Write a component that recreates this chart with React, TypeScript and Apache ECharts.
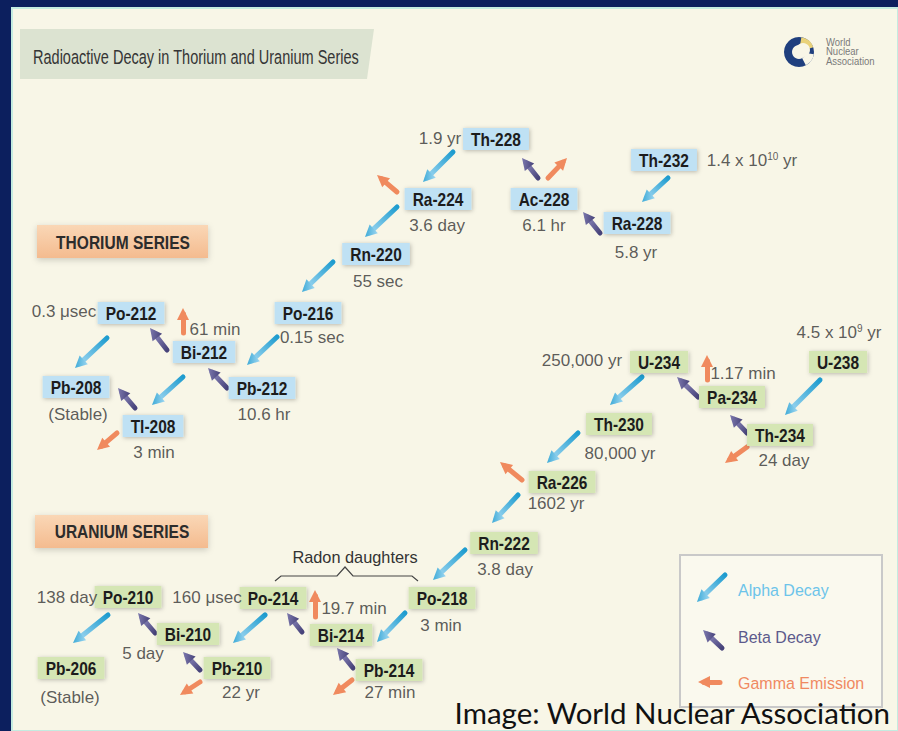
import React, { useEffect, useRef } from 'react';
import * as echarts from 'echarts';

const W = 898;
const H = 731;
const SANS = '"Liberation Sans", Arial, sans-serif';

// ---- Thorium series ----
const thoriumNuclides = ['Th-232', 'Ra-228', 'Ac-228', 'Th-228', 'Ra-224', 'Rn-220', 'Po-216', 'Pb-212', 'Bi-212', 'Po-212', 'Tl-208', 'Pb-208'];
const thoriumX = [664, 637, 544, 496, 438, 376, 308, 262, 204, 131, 153, 76];
const thoriumY = [160, 223, 199, 139, 199, 254, 313, 388, 352, 313, 426, 387];
const thoriumHalfLives = ['1.4 x 10¹⁰ yr', '5.8 yr', '6.1 hr', '1.9 yr', '3.6 day', '55 sec', '0.15 sec', '10.6 hr', '61 min', '0.3 μsec', '3 min', '(Stable)'];
const thoriumHalfX = [752, 636, 544, 440, 437, 378, 312, 264, 215, 64, 154, 78];
const thoriumHalfY = [160, 252, 225, 138, 225, 281, 337, 414, 329, 311, 452, 414];

// ---- Uranium series ----
const uraniumNuclides = ['U-238', 'Th-234', 'Pa-234', 'U-234', 'Th-230', 'Ra-226', 'Rn-222', 'Po-218', 'Pb-214', 'Bi-214', 'Po-214', 'Pb-210', 'Bi-210', 'Po-210', 'Pb-206'];
const uraniumX = [838, 780, 732, 659, 619, 562, 504, 442, 389, 341, 273, 237, 188, 128, 71];
const uraniumY = [362, 435, 397, 362, 424, 482, 543, 598, 670, 635, 598, 668, 634, 597, 668];
const uraniumHalfLives = ['4.5 x 10⁹ yr', '24 day', '1.17 min', '250,000 yr', '80,000 yr', '1602 yr', '3.8 day', '3 min', '27 min', '19.7 min', '160 μsec', '22 yr', '5 day', '138 day', '(Stable)'];
const uraniumHalfX = [839, 784, 743, 582, 620, 556, 505, 441, 390, 354, 207, 241, 143, 67, 70];
const uraniumHalfY = [332, 460, 373, 360, 453, 503, 569, 625, 692, 608, 597, 692, 653, 597, 697];

// ---- Decay arrows: [tailX, tailY, headX, headY] ----
const alphaArrows = [
  [668, 178, 642, 202], [453, 152, 423, 182], [397, 207, 365, 237], [333, 262, 302, 292],
  [277, 337, 247, 365], [183, 377, 152, 405], [107, 338, 75, 368],
  [820, 380, 785, 415], [642, 377, 610, 405], [578, 433, 547, 463], [518, 495, 492, 523],
  [465, 550, 433, 580], [405, 613, 377, 642], [265, 615, 233, 643], [108, 615, 73, 643],
  [725, 575, 697, 602],
];
const betaArrows = [
  [600, 233, 583, 212], [538, 178, 522, 158], [227, 388, 208, 368], [167, 350, 150, 328],
  [135, 408, 118, 388], [747, 433, 730, 415], [698, 397, 677, 377], [353, 668, 337, 648],
  [302, 632, 287, 613], [200, 670, 183, 652], [155, 633, 138, 613],
  [722, 648, 703, 630],
];
const gammaArrows = [
  [548, 178, 567, 158], [397, 192, 377, 175], [183, 333, 183, 308], [117, 433, 97, 450],
  [747, 447, 725, 463], [707, 380, 707, 355], [522, 480, 500, 462], [352, 680, 333, 695],
  [315, 617, 315, 590], [200, 682, 180, 695],
  [720, 682, 698, 682],
];

const legendLabels = ['Alpha Decay', 'Beta Decay', 'Gamma Emission'];
const legendColors = ['#6cc4ea', '#5c5a8c', '#f08a62'];
const legendY = [590, 637, 683];

const HEAD = 12;
function toLines(arr: number[][]) {
  return arr.map(([x1, y1, x2, y2]) => {
    const dx = x2 - x1;
    const dy = y2 - y1;
    const len = Math.sqrt(dx * dx + dy * dy);
    const k = (HEAD / 2) / len;
    return { coords: [[x1, y1], [x2 - dx * k, y2 - dy * k]] };
  });
}

let measureCtx: CanvasRenderingContext2D | null = null;
function measure(text: string, font: string) {
  if (!measureCtx) measureCtx = document.createElement('canvas').getContext('2d');
  if (!measureCtx) return text.length * 10;
  measureCtx.font = font;
  return measureCtx.measureText(text).width;
}

const NODE_FONT = 'bold 18px "Liberation Sans", Arial, sans-serif';
const NODE_SCALE = 0.86;

function nodeSeries(name: string, names: string[], xs: number[], ys: number[], bg: string) {
  return {
    type: 'custom',
    name,
    z: 5,
    encode: { x: 0, y: 1 },
    data: names.map((n, i) => ({ name: n, value: [xs[i], ys[i]] })),
    renderItem: (params: any, api: any) => {
      const p = api.coord([api.value(0), api.value(1)]);
      const label = names[params.dataIndex];
      const w = measure(label, NODE_FONT) * NODE_SCALE + 16;
      const h = 22;
      return {
        type: 'group',
        children: [
          {
            type: 'rect',
            shape: { x: p[0] - w / 2, y: p[1] - h / 2, width: w, height: h },
            style: { fill: bg, shadowBlur: 4, shadowColor: 'rgba(0,0,0,0.25)', shadowOffsetX: 1, shadowOffsetY: 1 },
          },
          {
            type: 'text',
            x: p[0],
            y: p[1] + 1,
            scaleX: NODE_SCALE,
            style: {
              text: label,
              fill: '#1c1c1c',
              font: NODE_FONT,
              textAlign: 'center',
              textVerticalAlign: 'middle',
              align: 'center',
              verticalAlign: 'middle',
            },
          },
        ],
      };
    },
  };
}

const SUP_MAP: Record<string, string> = { '⁰': '0', '¹': '1', '²': '2', '³': '3', '⁴': '4', '⁵': '5', '⁶': '6', '⁷': '7', '⁸': '8', '⁹': '9' };
function supFormat(s: string) {
  return s.replace(/[⁰¹²³⁴⁵⁶⁷⁸⁹]+/g, (m) => '{sup|' + m.split('').map((c) => SUP_MAP[c]).join('') + '}');
}

function halfSeries(name: string, texts: string[], xs: number[], ys: number[]) {
  return {
    type: 'scatter',
    name,
    symbolSize: 1,
    itemStyle: { color: 'rgba(0,0,0,0)' },
    z: 5,
    data: texts.map((t, i) => ({ name: t, value: [xs[i], ys[i]] })),
    label: {
      show: true,
      position: 'inside',
      formatter: (p: any) => supFormat(p.name),
      fontFamily: SANS,
      fontSize: 17,
      lineHeight: 18,
      color: '#333333',
      rich: {
        sup: { fontFamily: SANS, fontSize: 10, lineHeight: 18, verticalAlign: 'top', color: '#333333' },
      },
    },
  };
}

function txt(text: string, x: number, y: number, size: number, color: string, opts: any = {}) {
  const align = opts.align || 'left';
  return {
    type: 'text',
    x,
    y,
    z: 3,
    scaleX: opts.scaleX || 1,
    style: {
      text,
      fill: color,
      fontSize: size,
      fontFamily: opts.family || SANS,
      fontWeight: opts.weight || 'normal',
      align,
      verticalAlign: 'middle',
      textAlign: align,
      textVerticalAlign: 'middle',
    },
  };
}

export default function App() {
  const ref = useRef<HTMLDivElement>(null);
  useEffect(() => {
    if (!ref.current) return;
    const chart = echarts.init(ref.current, null, { renderer: 'svg' });

    const alphaGrad = new echarts.graphic.LinearGradient(1, 0, 0, 1, [
      { offset: 0, color: '#1e9ccf' },
      { offset: 1, color: '#9fd7f1' },
    ]);
    const betaGrad = new echarts.graphic.LinearGradient(1, 1, 0, 0, [
      { offset: 0, color: '#47437a' },
      { offset: 1, color: '#8f8bbf' },
    ]);
    const peach = () => new echarts.graphic.LinearGradient(0, 0, 0, 1, [{ offset: 0, color: '#fad7b6' }, { offset: 1, color: '#f4bb8f' }]);

    const graphic: any[] = [
      { type: 'rect', z: 0, shape: { x: 12, y: 8, width: W - 12, height: H - 8 }, style: { fill: '#f8f6e7', stroke: '#c4ebe0', lineWidth: 2 } },
      { type: 'polygon', z: 1, shape: { points: [[20, 29], [374, 29], [367, 79], [20, 79]] }, style: { fill: '#dce3d1' } },
      txt('Radioactive Decay in Thorium and Uranium Series', 33, 57, 19.5, '#353535', { scaleX: 0.745 }),
      // logo
      { type: 'ring', z: 2, shape: { cx: 799, cy: 52, r: 15, r0: 7 }, style: { fill: '#1f3f7e' } },
      { type: 'sector', z: 2, shape: { cx: 799, cy: 52, r: 15, r0: 7, startAngle: -Math.PI * 0.45, endAngle: -Math.PI * 0.1 }, style: { fill: '#e9d27a' } },
      { type: 'sector', z: 2, shape: { cx: 799, cy: 52, r: 15, r0: 7, startAngle: Math.PI * 0.05, endAngle: Math.PI * 0.35 }, style: { fill: '#f8f6e7' } },
      { type: 'circle', z: 2, shape: { cx: 803, cy: 50, r: 7 }, style: { fill: '#f8f6e7' } },
      txt('World', 826, 42, 10, '#7a7a7a', { scaleX: 0.95 }),
      txt('Nuclear', 826, 51.5, 10, '#7a7a7a', { scaleX: 0.95 }),
      txt('Association', 826, 61, 10, '#7a7a7a', { scaleX: 0.95 }),
      // series labels
      {
        type: 'rect', z: 1, shape: { x: 37, y: 225, width: 171, height: 33 },
        style: { fill: peach(), shadowBlur: 6, shadowColor: 'rgba(0,0,0,0.18)', shadowOffsetY: 2 },
      },
      txt('THORIUM SERIES', 123, 243, 18.5, '#2c2c2c', { weight: 'bold', align: 'center', scaleX: 0.84 }),
      {
        type: 'rect', z: 1, shape: { x: 35, y: 515, width: 173, height: 33 },
        style: { fill: peach(), shadowBlur: 6, shadowColor: 'rgba(0,0,0,0.18)', shadowOffsetY: 2 },
      },
      txt('URANIUM SERIES', 122, 532, 18.5, '#2c2c2c', { weight: 'bold', align: 'center', scaleX: 0.84 }),
      // radon daughters
      txt('Radon daughters', 355, 557, 17, '#333333', { align: 'center', scaleX: 0.96 }),
      {
        type: 'polyline', z: 2,
        shape: { points: [[275, 581], [281, 576], [337, 576], [345, 567], [353, 576], [412, 576], [418, 581]] },
        style: { stroke: '#444', lineWidth: 1.2, fill: 'none' },
      },
      // legend box
      { type: 'rect', z: 1, shape: { x: 680, y: 555, width: 202, height: 152 }, style: { fill: '#faf9ee', stroke: '#c9c9c9', lineWidth: 2 } },
      ...legendLabels.map((l, i) => txt(l, 738, legendY[i], 16.5, legendColors[i], { scaleX: 0.97 })),
      // caption
      txt('Image: World Nuclear Association', 890, 713, 28.5, '#111111', { family: 'Lato, "Open Sans", sans-serif', align: 'right', scaleX: 1.035 }),
    ];

    chart.setOption({
      animation: false,
      backgroundColor: '#0c1f5e',
      grid: { left: 0, right: 0, top: 0, bottom: 0 },
      xAxis: { type: 'value', min: 0, max: W, show: false },
      yAxis: { type: 'value', min: 0, max: H, inverse: true, show: false },
      graphic,
      series: [
        {
          type: 'lines', name: 'Alpha decay', coordinateSystem: 'cartesian2d', z: 4,
          symbol: ['none', 'triangle'], symbolSize: HEAD,
          lineStyle: { color: alphaGrad, width: 5, opacity: 1, cap: 'round', curveness: 0 },
          data: toLines(alphaArrows),
        },
        {
          type: 'lines', name: 'Beta decay', coordinateSystem: 'cartesian2d', z: 4,
          symbol: ['none', 'triangle'], symbolSize: HEAD,
          lineStyle: { color: betaGrad, width: 5, opacity: 1, cap: 'round', curveness: 0 },
          data: toLines(betaArrows),
        },
        {
          type: 'lines', name: 'Gamma emission', coordinateSystem: 'cartesian2d', z: 4,
          symbol: ['none', 'triangle'], symbolSize: HEAD,
          lineStyle: { color: '#f08a5e', width: 5, opacity: 1, cap: 'round', curveness: 0 },
          data: toLines(gammaArrows),
        },
        nodeSeries('Thorium series', thoriumNuclides, thoriumX, thoriumY, '#bfe1f4'),
        nodeSeries('Uranium series', uraniumNuclides, uraniumX, uraniumY, '#d5e6b4'),
        halfSeries('Thorium half-lives', thoriumHalfLives, thoriumHalfX, thoriumHalfY),
        halfSeries('Uranium half-lives', uraniumHalfLives, uraniumHalfX, uraniumHalfY),
      ],
    });
    return () => chart.dispose();
  }, []);
  return <div ref={ref} style={{ position: 'fixed', left: 0, top: 0, width: W, height: H }} />;
}
